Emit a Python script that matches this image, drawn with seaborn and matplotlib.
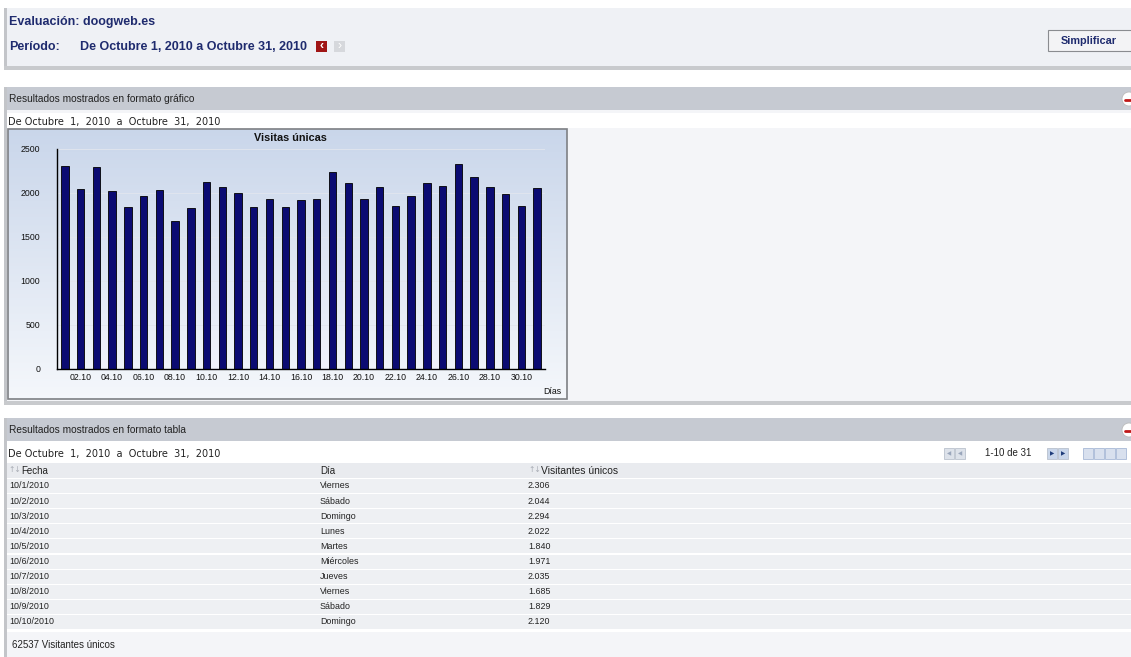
import numpy as np
import matplotlib
matplotlib.use('Agg')
import matplotlib.pyplot as plt
import seaborn as sns
from matplotlib.patches import Rectangle, Circle

# datos del informe (octubre 2010)
dias = list(range(1, 32))
visitas = [2306, 2044, 2294, 2022, 1840, 1971, 2035, 1685, 1829, 2120,
           2070, 2000, 1845, 1935, 1845, 1915, 1935, 2241, 2115, 1935,
           2065, 1855, 1965, 2115, 2080, 2325, 2185, 2065, 1990, 1855, 2055]
ticks_x = [2, 4, 6, 8, 10, 12, 14, 16, 18, 20, 22, 24, 26, 28, 30]
etiquetas_x = ["02.10", "04.10", "06.10", "08.10", "10.10", "12.10", "14.10", "16.10",
               "18.10", "20.10", "22.10", "24.10", "26.10", "28.10", "30.10"]
ticks_y = [0, 500, 1000, 1500, 2000, 2500]

fechas_tabla = ["10/1/2010", "10/2/2010", "10/3/2010", "10/4/2010", "10/5/2010",
                "10/6/2010", "10/7/2010", "10/8/2010", "10/9/2010", "10/10/2010"]
dias_semana = ["Viernes", "Sábado", "Domingo", "Lunes", "Martes",
               "Miércoles", "Jueves", "Viernes", "Sábado", "Domingo"]

sns.set_theme(style="white")
plt.rcParams['font.family'] = ['Liberation Sans', 'DejaVu Sans']

W, H = 1131, 657
fig = plt.figure(figsize=(W / 100, H / 100), dpi=100)
fig.patch.set_facecolor('white')

# capa de fondo en coordenadas de pixel
bg = fig.add_axes([0, 0, 1, 1])
bg.axis('off')

NAVY = '#1f2b6e'
GRIS_CAB = '#c6cad2'
TXT = '#222222'
RANGO = "De Octubre  1,  2010  a  Octubre  31,  2010"


def caja(x0, y0, x1, y1, color, **kw):
    bg.add_patch(Rectangle((x0, y0), x1 - x0, y1 - y0, facecolor=color,
                           edgecolor=kw.pop('edgecolor', 'none'), **kw))


def menos(y):
    bg.add_patch(Circle((1129, y), 7, facecolor='white', edgecolor='#bbbbbb', lw=0.6))
    bg.plot([1125, 1131], [y + 1, y + 1], color='#c01818', lw=2)


# panel superior
caja(4, 8, W, 69, '#eff1f5')
caja(4, 8, 7, 69, '#c3c5c9')
caja(4, 66, W, 70, '#c8cacd')
bg.text(9, 22, "Evaluación: doogweb.es", fontsize=9, fontweight='bold', color=NAVY, va='center')
bg.text(9, 47, "Período:", fontsize=9, fontweight='bold', color=NAVY, va='center')
bg.text(80, 47, "De Octubre 1, 2010 a Octubre 31, 2010", fontsize=9, fontweight='bold',
        color=NAVY, va='center')
caja(316, 41, 327, 52, '#a01515')
bg.text(321.5, 46.5, "‹", fontsize=9, fontweight='bold', color='white', ha='center', va='center')
caja(334, 41, 345, 52, '#d6d8dc')
bg.text(339.5, 46.5, "›", fontsize=9, color='white', ha='center', va='center')
# boton
caja(1048, 30, W + 2, 51, '#f3f3f5', edgecolor='#8a8c90', lw=0.8)
bg.text(1089, 40.5, "Simplificar", fontsize=7.8, fontweight='bold', color=NAVY, ha='center', va='center')

# seccion grafico
caja(4, 87, W, 110, GRIS_CAB)
caja(4, 87, 7, 405, '#c3c5c9')
bg.text(9, 99, "Resultados mostrados en formato gráfico", fontsize=7.3, color=TXT, va='center')
menos(99)
caja(7, 110, W, 402, '#f4f5f8')
caja(7, 113, W, 128, 'white')
bg.text(8, 121.5, RANGO, fontsize=7, color=TXT, va='center', family='DejaVu Sans')
caja(4, 401, W, 405, '#c8cacd')

# caja del grafico con degradado
grad = np.linspace(0, 1, 200)[:, None, None]
c_top = np.array([0.79, 0.84, 0.92])
c_bot = np.array([0.96, 0.97, 0.985])
img = c_top * (1 - grad) + c_bot * grad
bg.imshow(img, extent=[8, 567, 399, 129], aspect='auto', zorder=1)
bg.add_patch(Rectangle((8, 129), 559, 270, facecolor='none', edgecolor='#7e8084', lw=1.2, zorder=2))
bg.text(290, 138, "Visitas únicas", fontsize=7.8, fontweight='bold', color='#111111',
        ha='center', va='center', zorder=3)
bg.text(561, 391, "Días", fontsize=6.3, color='#111111', ha='right', va='center', zorder=3)

# seccion tabla
caja(4, 418, W, 441, GRIS_CAB)
caja(4, 418, 7, 657, '#c3c5c9')
bg.text(9, 430, "Resultados mostrados en formato tabla", fontsize=7.3, color=TXT, va='center')
menos(430)
caja(7, 446, W, 462, 'white')
bg.text(8, 454, RANGO, fontsize=7, color=TXT, va='center', family='DejaVu Sans')
# paginacion
for x0, c in [(944, '#dde2ea'), (955, '#dde2ea'), (1047, '#c9d6ea'), (1058, '#c9d6ea')]:
    caja(x0, 448, x0 + 10, 459, c, edgecolor='#b0b8c6', lw=0.5)
bg.text(949, 453.5, "◀", fontsize=4, color='#9aa6bb', ha='center', va='center', family='DejaVu Sans')
bg.text(960, 453.5, "◀", fontsize=4, color='#9aa6bb', ha='center', va='center', family='DejaVu Sans')
bg.text(1052, 453.5, "▶", fontsize=4, color='#1e3c7a', ha='center', va='center', family='DejaVu Sans')
bg.text(1063, 453.5, "▶", fontsize=4, color='#1e3c7a', ha='center', va='center', family='DejaVu Sans')
bg.text(1008, 453.5, "1-10 de 31", fontsize=7, color=TXT, ha='center', va='center')
for x0 in [1083, 1094, 1105, 1116]:
    caja(x0, 448, x0 + 10, 459, '#d8e0ee', edgecolor='#9aaed0', lw=0.5)

# cabecera de la tabla
caja(7, 463, W, 478, '#e9ebef')
bg.text(8, 470, "↑↓", fontsize=5.5, color='#a8acb4', va='center', family='DejaVu Sans')
bg.text(21, 470.5, "Fecha", fontsize=7, color=TXT, va='center')
bg.text(320, 470.5, "Día", fontsize=7, color=TXT, va='center')
bg.text(528, 470, "↑↓", fontsize=5.5, color='#a8acb4', va='center', family='DejaVu Sans')
bg.text(541, 470.5, "Visitantes únicos", fontsize=7.4, color=TXT, va='center')

fila0, paso = 486, 15.1
for i, (f, d, v) in enumerate(zip(fechas_tabla, dias_semana, visitas[:10])):
    y = fila0 + i * paso
    caja(7, y - 7, W, y + 7, '#eef0f3')
    bg.text(9, y, f, fontsize=6.4, color=TXT, va='center')
    bg.text(320, y, d, fontsize=6.4, color=TXT, va='center')
    bg.text(528, y, f"{v:,}".replace(",", "."), fontsize=6.4, color=TXT, va='center')

caja(7, 632, W, H, '#f4f5f8')
bg.text(12, 645, f"{sum(visitas)} Visitantes únicos", fontsize=7, color=TXT, va='center')

bg.set_xlim(0, W)
bg.set_ylim(H, 0)

# ejes del grafico de barras
x0p, x1p, y0p, y1p = 57, 545, 149, 369
ax = fig.add_axes([x0p / W, 1 - y1p / H, (x1p - x0p) / W, (y1p - y0p) / H])
ax.patch.set_alpha(0)
sns.barplot(x=dias, y=visitas, native_scale=True, color='#0b0b72', saturation=1,
            width=0.47, edgecolor='black', linewidth=0.6, ax=ax)
ax.set_xlim(0.5, 31.5)
ax.set_ylim(0, 2500)
ax.set_xticks(ticks_x)
ax.set_xticklabels(etiquetas_x, fontsize=6.3, color='#111111')
ax.set_xticks(dias, minor=True)
ax.set_yticks(ticks_y)
ax.set_yticklabels([str(t) for t in ticks_y], fontsize=6.3, color='#111111')
ax.set_yticks(range(0, 2501, 100), minor=True)
ax.tick_params(axis='y', which='major', direction='out', length=5, width=0.8, color='black', pad=7)
ax.tick_params(axis='y', which='minor', direction='out', length=2.5, width=0.6, color='black')
ax.tick_params(axis='x', which='major', direction='in', length=3, width=0.7, color='black', pad=3)
ax.tick_params(axis='x', which='minor', direction='in', length=2, width=0.6, color='black')
ax.set_xlabel('')
ax.set_ylabel('')
ax.yaxis.grid(True, color='#e2e6ee', lw=0.6)
ax.set_axisbelow(True)
for s in ['top', 'right']:
    ax.spines[s].set_visible(False)
for s in ['left', 'bottom']:
    ax.spines[s].set_color('black')
    ax.spines[s].set_linewidth(1.0)

fig.savefig('out.png', dpi=100)
